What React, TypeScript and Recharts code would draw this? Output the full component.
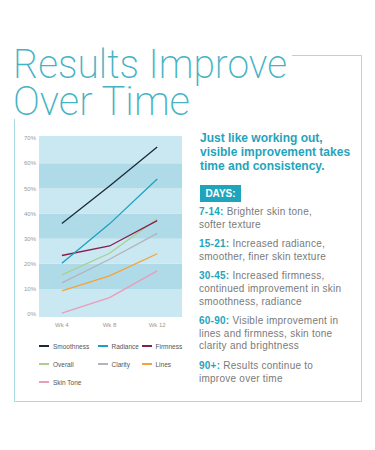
import React from "react";
import { LineChart, Line, XAxis, YAxis, ReferenceArea } from "recharts";

const weeks = ["Wk 4", "Wk 8", "Wk 12"];
const weekIndex = [0, 1, 2];
const smoothness = [36, 51, 66.5];
const radiance = [20.2, 35.9, 53.8];
const firmness = [23.3, 27.1, 37.2];
const overall = [15.6, 24.2, 37.8];
const clarity = [12.4, 21.8, 32.1];
const linesSeries = [9.2, 15.2, 24];
const skinTone = [0.3, 6.5, 17.2];
const yTicks = [0, 10, 20, 30, 40, 50, 60, 70];
const bandEdges = [-1.2, 10, 20, 30, 40, 50, 60, 70.9];
const xDomain = [-0.48, 2.52];

const seriesNames = ["Smoothness", "Radiance", "Firmness", "Overall", "Clarity", "Lines", "Skin Tone"];
const seriesValues = [smoothness, radiance, firmness, overall, clarity, linesSeries, skinTone];
const seriesColors = ["#1c2a38", "#1ba2bf", "#8a1d4f", "#a9d18e", "#b3b3bb", "#f4a336", "#eb9bbb"];
const drawOrder = [6, 5, 4, 3, 2, 1, 0];

const titleLines = ["Results Improve", "Over Time"];
const introLines = ["Just like working out,", "visible improvement takes", "time and consistency."];
const daysLabel = "DAYS:";
const dayRanges = ["7-14:", "15-21:", "30-45:", "60-90:", "90+:"];
const dayTexts = [
  ["Brighter skin tone,", "softer texture"],
  ["Increased radiance,", "smoother, finer skin texture"],
  ["Increased firmness,", "continued improvement in skin", "smoothness, radiance"],
  ["Visible improvement in", "lines and firmness, skin tone", "clarity and brightness"],
  ["Results continue to", "improve over time"],
];

const data = weekIndex.map((w, i) => {
  const row: Record<string, any> = { wk: w };
  seriesNames.forEach((n, k) => {
    row[n] = seriesValues[k][i];
  });
  return row;
});

const TEAL = "#1fa4bd";
const FONT = "'Liberation Sans', Arial, sans-serif";

export default function App() {
  return (
    <div
      style={{
        position: "absolute",
        left: 0,
        top: 0,
        width: 375,
        height: 450,
        background: "#fff",
        fontFamily: FONT,
        overflow: "hidden",
      }}
    >
      <svg width={375} height={450} style={{ position: "absolute", left: 0, top: 0 }}>
        <path d="M 292 55.5 H 361.5 V 401.5 H 14.5 V 119" fill="none" stroke="#a9d9e2" strokeWidth={1} />
        <text
          x={13}
          y={78}
          fontSize={40}
          fontFamily="Roboto, Lato, sans-serif"
          fontWeight={200}
          fill="#45b3c4"
          textLength={274}
          lengthAdjust="spacingAndGlyphs"
        >
          {titleLines[0]}
        </text>
        <text
          x={13}
          y={115}
          fontSize={40}
          fontFamily="Roboto, Lato, sans-serif"
          fontWeight={200}
          fill="#45b3c4"
          textLength={177}
          lengthAdjust="spacingAndGlyphs"
        >
          {titleLines[1]}
        </text>
      </svg>

      <div style={{ position: "absolute", left: 0, top: 120 }}>
        <LineChart width={200} height={220} data={data} margin={{ top: 16, right: 18, bottom: 3, left: 0 }}>
          <XAxis
            dataKey="wk"
            type="number"
            domain={xDomain}
            ticks={weekIndex}
            allowDataOverflow
            tickFormatter={(v: number) => weeks[v] ?? ""}
            axisLine={false}
            tickLine={false}
            tickSize={0}
            tickMargin={6}
            height={20}
            tick={{ fontSize: 6, fill: "#999", fontFamily: FONT }}
          />
          <YAxis
            type="number"
            domain={[bandEdges[0], bandEdges[bandEdges.length - 1]]}
            ticks={yTicks}
            allowDataOverflow
            tickFormatter={(v: number) => `${v}%`}
            axisLine={false}
            tickLine={false}
            tickSize={0}
            tickMargin={3}
            width={39}
            tick={{ fontSize: 6, fill: "#999", fontFamily: FONT }}
          />
          {bandEdges.slice(0, -1).map((e, i) => (
            <ReferenceArea
              key={i}
              y1={e}
              y2={bandEdges[i + 1]}
              fill={i % 2 === 0 ? "#c9e8f1" : "#afdbe9"}
              fillOpacity={1}
              stroke="none"
            />
          ))}
          {drawOrder.map((k) => (
            <Line
              key={seriesNames[k]}
              type="linear"
              dataKey={seriesNames[k]}
              stroke={seriesColors[k]}
              strokeWidth={1.3}
              dot={false}
              activeDot={false}
              isAnimationActive={false}
            />
          ))}
        </LineChart>
      </div>

      {/* legend */}
      {seriesNames.map((n, k) => {
        const col = k % 3;
        const row = Math.floor(k / 3);
        const xs = [39, 97.5, 141.5];
        return (
          <div
            key={n}
            style={{
              position: "absolute",
              left: xs[col],
              top: 346 + row * 18 - 5,
              height: 10,
              display: "flex",
              alignItems: "center",
              fontSize: 6.5,
              color: "#555",
              whiteSpace: "nowrap",
            }}
          >
            <span style={{ display: "inline-block", width: 10, height: 1.3, background: seriesColors[k], marginRight: 4 }} />
            {n}
          </div>
        );
      })}

      {/* right text */}
      <div
        style={{
          position: "absolute",
          left: 200,
          top: 132,
          fontSize: 12,
          fontWeight: 700,
          color: TEAL,
          lineHeight: "13.8px",
          whiteSpace: "nowrap",
        }}
      >
        {introLines.map((l) => (
          <div key={l}>{l}</div>
        ))}
      </div>
      <div
        style={{
          position: "absolute",
          left: 200,
          top: 185,
          width: 41,
          height: 17,
          background: TEAL,
          color: "#fff",
          fontWeight: 700,
          fontSize: 10,
          lineHeight: "17px",
          textAlign: "center",
        }}
      >
        {daysLabel}
      </div>
      <div
        style={{
          position: "absolute",
          left: 199,
          top: 206,
          fontSize: 10,
          color: "#7a7a7a",
          lineHeight: "12.6px",
          whiteSpace: "nowrap",
          letterSpacing: 0.25,
        }}
      >
        {dayRanges.map((r, i) => (
          <div key={r} style={{ marginBottom: 7 }}>
            {dayTexts[i].map((t, j) => (
              <div key={j}>
                {j === 0 && <span style={{ color: TEAL, fontWeight: 700 }}>{r} </span>}
                {t}
              </div>
            ))}
          </div>
        ))}
      </div>
    </div>
  );
}
